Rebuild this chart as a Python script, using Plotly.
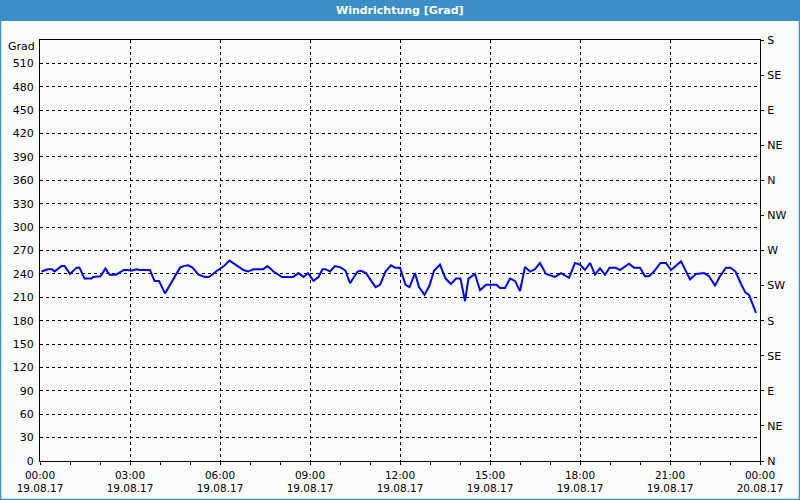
import plotly.graph_objects as go

# ---- data ----
times = ["00:03","00:16","00:24","00:29","00:43","00:49","01:00","01:13","01:19","01:29","01:43","01:46",
         "02:01","02:11","02:19","02:32","02:48","02:56","03:02","03:13","03:19","03:40","03:49","03:58",
         "04:10","04:22","04:29","04:40","04:47","04:56","05:05","05:17","05:30","05:38","05:56","06:08",
         "06:19","06:32","06:47","06:56","07:07","07:26","07:35","07:47","08:04","08:26","08:37","08:47",
         "08:56","09:07","09:17","09:25","09:31","09:40","09:50","10:02","10:11","10:20","10:35","10:42",
         "10:52","11:11","11:20","11:31","11:42","11:50","12:00","12:11","12:19","12:30","12:38","12:49",
         "12:59","13:08","13:20","13:31","13:42","13:52","14:01","14:10","14:17","14:30","14:40","14:52",
         "15:13","15:20","15:30","15:40","15:50","16:00","16:10","16:20","16:30","16:40","16:52","17:10",
         "17:22","17:38","17:50","18:00","18:10","18:20","18:30","18:40","18:50","18:59","19:11","19:20",
         "19:38","19:48","20:00","20:10","20:18","20:28","20:41","20:52","21:02","21:22","21:40","21:52",
         "22:08","22:18","22:30","22:40","22:52","23:01","23:11","23:22","23:31","23:38","23:52"]
direction = [243,246,246,243,250,250,240,248,248,234,234,236,
             237,247,239,239,245,245,244,246,245,245,231,231,
             215,228,237,248,250,251,248,239,236,236,245,250,
             257,251,245,243,246,246,250,243,236,236,241,236,
             241,231,236,246,246,243,250,248,244,228,243,244,
             241,223,226,243,251,248,248,226,223,241,223,213,
             225,244,252,234,227,234,234,205,234,240,219,226,
             226,222,222,234,231,218,249,243,246,254,240,236,
             241,235,254,252,245,254,239,247,239,248,248,245,
             253,248,248,237,237,243,254,254,245,256,233,240,
             241,237,225,237,248,248,243,227,216,213,190]
day = "2017-08-19"
x_tick_hours = [0, 3, 6, 9, 12, 15, 18, 21, 24]
x_tick_labels = ["00:00<br>19.08.17", "03:00<br>19.08.17", "06:00<br>19.08.17", "09:00<br>19.08.17",
                 "12:00<br>19.08.17", "15:00<br>19.08.17", "18:00<br>19.08.17", "21:00<br>19.08.17",
                 "00:00<br>20.08.17"]
left_ticks = list(range(0, 511, 30))
right_ticks = list(range(0, 541, 45))
right_labels = ["N", "NE", "E", "SE", "S", "SW", "W", "NW", "N", "NE", "E", "SE", "S"]

x_vals = [f"{day} {t}:00" for t in times]
def hour_str(h):
    if h == 24:
        return "2017-08-20 00:00:00"
    return f"{day} {h:02d}:00:00"
x_tick_vals = [hour_str(h) for h in x_tick_hours]

W, H = 800, 500
ML, MR, MT, MB = 40, 40, 40, 39
PW, PH = W - ML - MR, H - MT - MB
BG = "#FBFDFB"
BLUE = "#3C8FC6"
FONT = "DejaVu Sans"

fig = go.Figure()
fig.add_trace(go.Scatter(x=x_vals, y=direction, mode="lines",
                         line=dict(color="#0000FF", width=2), showlegend=False, hoverinfo="skip"))
fig.add_trace(go.Scatter(x=[x_vals[0]], y=[None], yaxis="y2", showlegend=False, hoverinfo="skip"))

fig.update_layout(
    width=W, height=H,
    margin=dict(l=ML, r=MR, t=MT, b=MB, pad=0, autoexpand=False),
    paper_bgcolor=BG, plot_bgcolor=BG,
    font=dict(family=FONT, size=10, color="#000000"),
    showlegend=False,
    xaxis=dict(type="date", range=[hour_str(0), hour_str(24)], automargin=False,
               tickmode="array", tickvals=x_tick_vals, ticktext=x_tick_labels,
               showgrid=True, gridcolor="#000000", gridwidth=1, griddash="3px,3px",
               showline=True, linecolor="#000000", linewidth=1, mirror=True,
               ticks="outside", ticklen=3, tickcolor="#000000", ticklabelstandoff=1,
               minor=dict(dtick=3600000, ticks="outside", ticklen=3, tickcolor="#000000", showgrid=False),
               zeroline=False, tickfont=dict(size=10.5)),
    yaxis=dict(range=[0, 540], tickmode="array", tickvals=left_ticks, automargin=False,
               ticktext=[str(v) for v in left_ticks],
               showgrid=True, gridcolor="#000000", gridwidth=1, griddash="3px,3px",
               showline=True, linecolor="#000000", linewidth=1, mirror=True,
               ticks="", ticklabelstandoff=3, zeroline=False, tickfont=dict(size=11)),
    yaxis2=dict(range=[0, 540], overlaying="y", side="right", tickmode="array", automargin=False,
                tickvals=right_ticks, ticktext=right_labels, showgrid=False,
                ticks="outside", ticklen=3, tickcolor="#000000", ticklabelstandoff=1,
                showline=False, zeroline=False, tickfont=dict(size=11)),
)

# title bar
fig.add_shape(type="rect", xref="paper", yref="paper",
              x0=-ML / PW, x1=1 + MR / PW, y0=1 + (MT - 21) / PH, y1=1 + MT / PH,
              fillcolor=BLUE, line=dict(width=0), layer="below")
# outer frame
fig.add_shape(type="rect", xref="paper", yref="paper",
              x0=(-ML + 0.5) / PW, x1=1 + (MR - 0.5) / PW, y0=(-MB + 0.5) / PH, y1=1 + (MT - 0.5) / PH,
              fillcolor="rgba(0,0,0,0)", line=dict(color=BLUE, width=1.5))
fig.add_annotation(text="<b>Windrichtung [Grad]</b>", xref="paper", yref="paper",
                   x=0.5, y=1 + (MT - 10.5) / PH, showarrow=False,
                   font=dict(family=FONT, size=11, color="#FFFFFF"), xanchor="center", yanchor="middle")
fig.add_annotation(text="Grad", xref="paper", yref="paper", x=-3 / PW, y=1 - 6 / PH,
                   showarrow=False, xanchor="right", yanchor="middle",
                   font=dict(family=FONT, size=11, color="#000000"))

fig.write_html("out.html")
